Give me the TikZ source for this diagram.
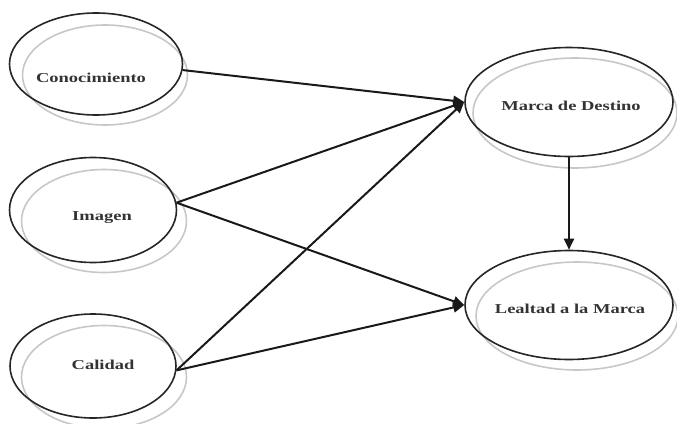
\documentclass[tikz,border=0pt]{standalone}
\usepackage{fontspec}
\setmainfont{Liberation Serif}
\usetikzlibrary{shapes.geometric,arrows.meta}
\begin{document}
\begin{tikzpicture}[x=1pt,y=-1pt,
  construct/.style={ellipse, draw=black!85, line width=1.6pt, inner sep=0pt, minimum width=#1},
  shade/.style={ellipse, draw=black!22, line width=1.6pt, inner sep=0pt},
  lbl/.style={font=\fontsize{13.6}{14}\selectfont\bfseries, text=black!80, xscale=1.36, transform shape, inner sep=0pt},
  path/.style={line width=2pt, black!90, -{Triangle[length=11pt,width=10pt]}}
]
\useasboundingbox (0,0) rectangle (677,423);
% shadow ellipses
\node[shade, minimum width=165pt, minimum height=100pt] (sk) at (105,75) {};
\node[shade, minimum width=165pt, minimum height=103pt] (si) at (104,221) {};
\node[shade, minimum width=165pt, minimum height=103pt] (sc) at (104,377) {};
\node[shade, minimum width=204pt, minimum height=110pt] (smd) at (575,113) {};
\node[shade, minimum width=202pt, minimum height=108pt] (slm) at (577,316) {};
% main ellipses
\node[construct=173pt, minimum height=102pt] (k) at (96,64) {};
\node[construct=167pt, minimum height=105pt] (im) at (93,210) {};
\node[construct=166pt, minimum height=104pt] (ca) at (93,366) {};
\node[construct=208pt, minimum height=109pt] (md) at (569,102) {};
\node[construct=208pt, minimum height=109pt] (lm) at (569,305) {};
% labels
\node[lbl] (tk) at (91,78) {Conocimiento};
\node[lbl] (ti) at (102,218) {Imagen};
\node[lbl] (tc) at (103,365) {Calidad};
\node[lbl] (tmd) at (571,106) {Marca de Destino};
\node[lbl] (tlm) at (570,309) {Lealtad a la Marca};
% connectors
\draw[path] (k.-4) -- (md.west);
\draw[path] (im.5) -- (md.west);
\draw[path] (im.5) -- (lm.west);
\draw[path] (ca.-3) -- (md.west);
\draw[path] (ca.-3) -- (lm.west);
\draw[path] (md.south) -- (lm.north);
\end{tikzpicture}
\end{document}
